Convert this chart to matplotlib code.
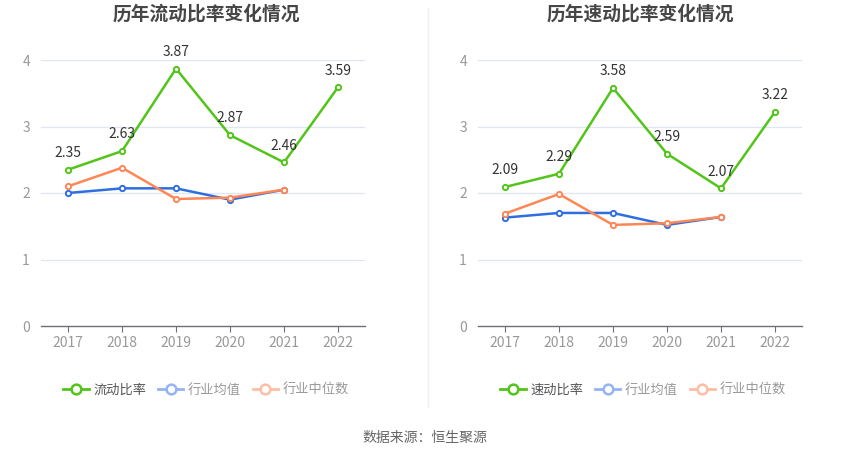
import matplotlib
matplotlib.use("Agg")
import matplotlib.pyplot as plt
from matplotlib.lines import Line2D

plt.rcParams['font.family'] = ['Noto Sans CJK SC', 'DejaVu Sans']

years = ['2017', '2018', '2019', '2020', '2021', '2022']
current_ratio = [2.35, 2.63, 3.87, 2.87, 2.46, 3.59]
current_avg = [2.00, 2.07, 2.07, 1.90, 2.05]
current_median = [2.10, 2.38, 1.91, 1.93, 2.05]
quick_ratio = [2.09, 2.29, 3.58, 2.59, 2.07, 3.22]
quick_avg = [1.63, 1.70, 1.70, 1.52, 1.64]
quick_median = [1.69, 1.985, 1.52, 1.545, 1.64]

titles = ['历年流动比率变化情况', '历年速动比率变化情况']
main_names = ['流动比率', '速动比率']
avg_name = '行业均值'
median_name = '行业中位数'
yticks = [0, 1, 2, 3, 4]
source = '数据来源：恒生聚源'

GREEN = '#52c41a'
BLUE = '#2f6ee0'
ORANGE = '#ff8756'
W, H = 850, 459

fig = plt.figure(figsize=(W / 100, H / 100), dpi=100)

def px_axes(x0, x1, ytop, ybot):
    return fig.add_axes([x0 / W, 1 - ybot / H, (x1 - x0) / W, (ybot - ytop) / H])

panels = [
    (41, 365, 60, 326, current_ratio, current_avg, current_median, 206),
    (478, 802, 60, 326, quick_ratio, quick_avg, quick_median, 640),
]

for i, (x0, x1, yt, yb, main, avg, med, tx) in enumerate(panels):
    ax = px_axes(x0, x1, yt, yb)
    xs = list(range(len(years)))
    ax.set_xlim(-0.5, len(years) - 0.5)
    ax.set_ylim(0, 4)
    for y in yticks[1:]:
        ax.axhline(y, color='#e0e6f1', lw=0.9, zorder=0)
    for s in ['top', 'right', 'left']:
        ax.spines[s].set_visible(False)
    ax.spines['bottom'].set_color('#6e7079')
    ax.spines['bottom'].set_linewidth(1)
    ax.set_yticks(yticks)
    ax.set_yticklabels([str(v) for v in yticks])
    ax.tick_params(axis='y', length=0, labelsize=10, labelcolor='#999999', pad=8)
    ax.set_xticks(xs)
    ax.set_xticklabels(years)
    ax.tick_params(axis='x', length=4, color='#6e7079', labelsize=10, labelcolor='#999999', pad=3)

    mk = dict(marker='o', markersize=3.8, markerfacecolor='white', markeredgewidth=1.4)
    ax.plot(xs[:len(avg)], avg, color=BLUE, lw=1.8, markeredgecolor=BLUE, zorder=3, clip_on=False, **mk)
    ax.plot(xs[:len(med)], med, color=ORANGE, lw=1.8, markeredgecolor=ORANGE, zorder=4, clip_on=False, **mk)
    ax.plot(xs, main, color=GREEN, lw=1.8, markeredgecolor=GREEN, zorder=5, clip_on=False, **mk)
    for x, v in zip(xs, main):
        ax.annotate(f'{v:.2f}', (x, v), xytext=(0, 7), textcoords='offset points',
                    ha='center', va='bottom', fontsize=10, color='#333333', zorder=6)

    fig.text(tx / W, 1 - 14 / H, titles[i], ha='center', va='center',
             fontsize=13.5, fontweight='bold', color='#464646')

    # legend
    handles = [
        Line2D([], [], color=GREEN, lw=2, marker='o', markersize=7, markerfacecolor='white',
               markeredgecolor=GREEN, markeredgewidth=1.8),
        Line2D([], [], color='#94b4f5', lw=2, marker='o', markersize=7, markerfacecolor='white',
               markeredgecolor='#94b4f5', markeredgewidth=1.8),
        Line2D([], [], color='#ffbda3', lw=2, marker='o', markersize=7, markerfacecolor='white',
               markeredgecolor='#ffbda3', markeredgewidth=1.8),
    ]
    leg = fig.legend(handles, [main_names[i], avg_name, median_name],
                     loc='center', bbox_to_anchor=((x0 + x1) / 2 / W + 3 / W, 1 - 390 / H),
                     ncol=3, frameon=False, fontsize=9.5, handlelength=1.9,
                     handletextpad=0.35, columnspacing=0.9)
    for t, c in zip(leg.get_texts(), ['#555555', '#999999', '#999999']):
        t.set_color(c)

# separator
fig.add_artist(Line2D([427.5 / W, 427.5 / W], [1 - 8 / H, 1 - 407 / H], color='#eeeeee', lw=1))

fig.text(425 / W, 1 - 438 / H, source, ha='center', va='center', fontsize=10, color='#666666')

fig.savefig('out.png', dpi=100, facecolor='white')
